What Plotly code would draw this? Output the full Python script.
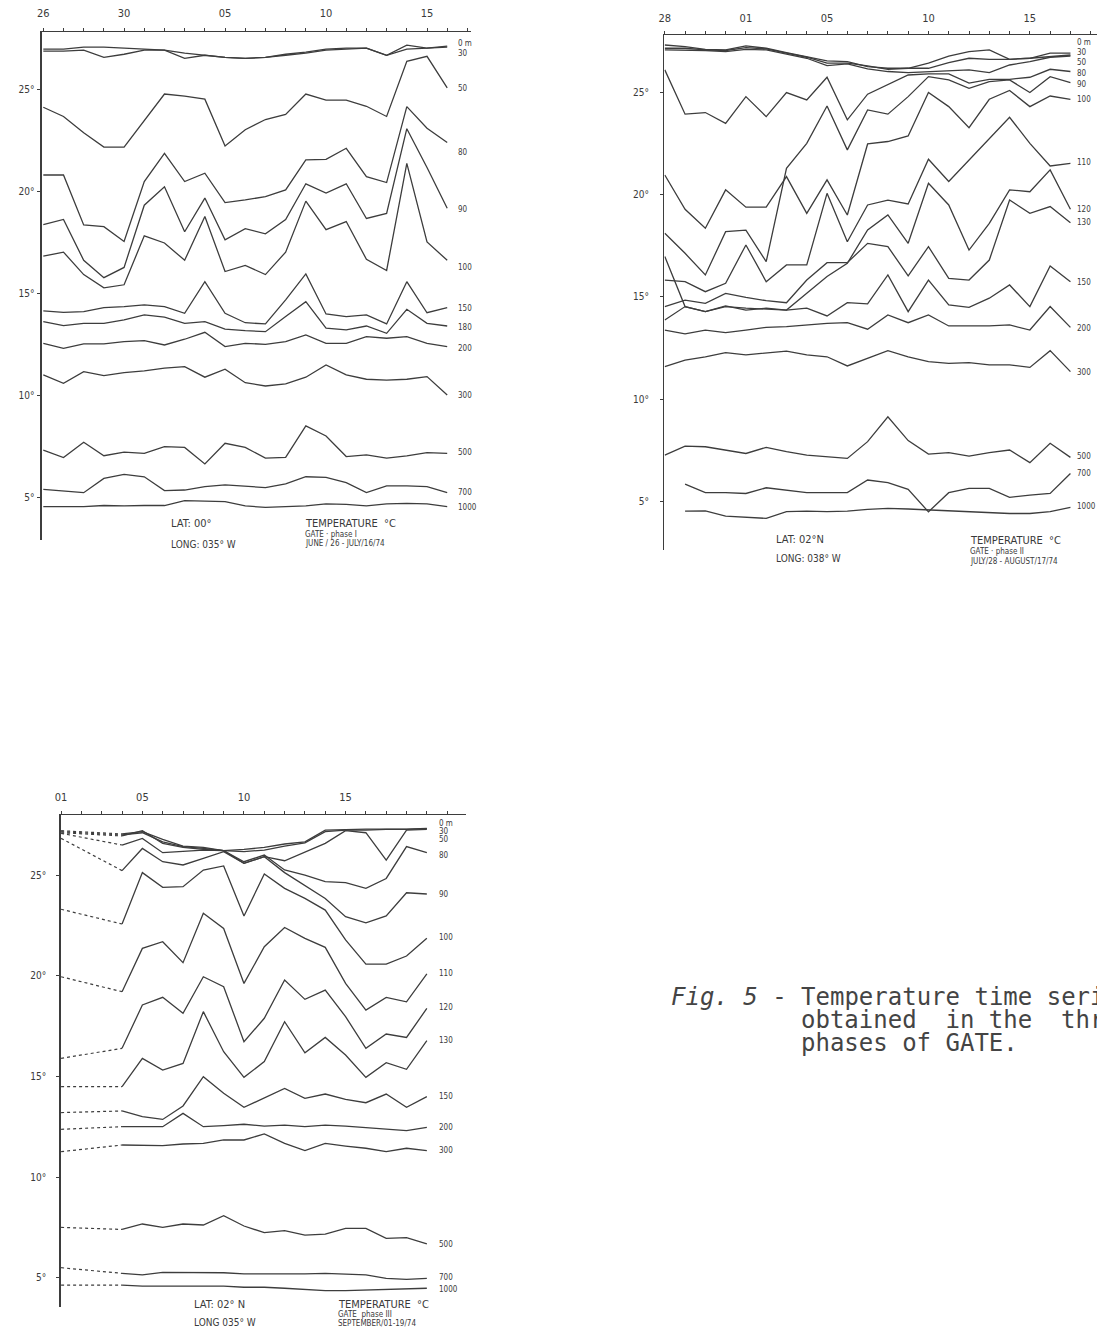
import plotly.graph_objects as go

W, H = 1097, 1333
LINE = "#3d3d3d"
TXT = "#3a3a3a"
FONT = "Liberation Sans Narrow, DejaVu Sans Condensed, DejaVu Sans, sans-serif"

# ---------------- Panel 1: GATE phase I, June 26 - July 16 1974 (daily) ----------------
p1_days = list(range(21))
p1_tickvals = list(range(22))
p1_ticktext = ["26", "", "", "", "30", "", "", "", "", "05", "", "", "", "", "10", "", "", "", "", "15", "", ""]
p1_labels = ["0 m", "30", "50", "80", "90", "100", "150", "180", "200", "300", "500", "700", "1000"]
p1_0m = [27.0, 27.0, 27.1, 27.1, 27.05, 27.0, 26.95, 26.8, 26.7, 26.6, 26.55, 26.6, 26.7, 26.8, 26.95, 27.0, 27.05, 26.7, 27.2, 27.05, 27.1]
p1_30 = [26.9, 26.9, 26.95, 26.6, 26.75, 26.95, 26.95, 26.55, 26.7, 26.6, 26.55, 26.6, 26.75, 26.85, 27.0, 27.05, 27.05, 26.7, 27.0, 27.05, 27.15]
p1_50 = [24.15, 23.7, 22.9, 22.2, 22.2, 23.5, 24.8, 24.7, 24.55, 22.25, 23.05, 23.55, 23.8, 24.8, 24.5, 24.5, 24.2, 23.7, 26.4, 26.65, 25.1]
p1_80 = [20.83, 20.83, 18.38, 18.30, 17.57, 20.51, 21.89, 20.51, 20.92, 19.48, 19.61, 19.77, 20.1, 21.57, 21.60, 22.14, 20.75, 20.46, 24.18, 23.12, 22.42]
p1_90 = [18.4, 18.65, 16.65, 15.8, 16.3, 19.35, 20.25, 18.05, 19.7, 17.65, 18.2, 17.95, 18.65, 20.4, 19.95, 20.4, 18.7, 18.95, 23.1, 21.2, 19.2]
p1_100 = [16.85, 17.05, 15.95, 15.3, 15.45, 17.85, 17.5, 16.65, 18.8, 16.1, 16.4, 15.95, 17.05, 19.55, 18.15, 18.55, 16.7, 16.15, 21.4, 17.55, 16.65]
p1_150 = [14.17, 14.10, 14.13, 14.33, 14.38, 14.46, 14.38, 14.05, 15.60, 14.05, 13.59, 13.53, 14.71, 15.98, 14.02, 13.89, 13.97, 13.53, 15.60, 14.08, 14.33]
p1_180 = [13.64, 13.45, 13.56, 13.56, 13.73, 13.97, 13.86, 13.56, 13.64, 13.28, 13.20, 13.15, 13.89, 14.62, 13.32, 13.24, 13.43, 13.07, 14.25, 13.56, 13.43]
p1_200 = [12.58, 12.33, 12.55, 12.55, 12.66, 12.71, 12.50, 12.78, 13.12, 12.42, 12.58, 12.53, 12.66, 12.99, 12.58, 12.58, 12.91, 12.83, 12.91, 12.58, 12.42]
p1_300 = [11.03, 10.62, 11.19, 11.00, 11.14, 11.23, 11.36, 11.44, 10.92, 11.31, 10.65, 10.49, 10.59, 10.92, 11.52, 11.03, 10.82, 10.78, 10.82, 10.95, 10.05]
p1_500 = [7.35, 6.98, 7.73, 7.07, 7.25, 7.19, 7.52, 7.48, 6.67, 7.68, 7.48, 6.95, 6.99, 8.53, 8.04, 7.03, 7.11, 6.95, 7.06, 7.22, 7.19]
p1_700 = [5.42, 5.34, 5.26, 5.96, 6.16, 6.04, 5.36, 5.39, 5.56, 5.64, 5.56, 5.51, 5.69, 6.04, 6.01, 5.75, 5.26, 5.59, 5.59, 5.56, 5.26]
p1_1000 = [4.58, 4.58, 4.58, 4.63, 4.61, 4.63, 4.63, 4.87, 4.85, 4.82, 4.61, 4.54, 4.58, 4.61, 4.71, 4.69, 4.61, 4.71, 4.74, 4.71, 4.58]
p1_series = [p1_0m, p1_30, p1_50, p1_80, p1_90, p1_100, p1_150, p1_180, p1_200, p1_300, p1_500, p1_700, p1_1000]
p1_label_y = [27.30, 26.81, 25.05, 21.91, 19.12, 16.32, 14.31, 13.38, 12.35, 10.0, 7.21, 5.25, 4.51]

# ---------------- Panel 2: GATE phase II, July 28 - August 17 1974 ----------------
p2_days = list(range(21))
p2_tickvals = list(range(22))
p2_ticktext = ["28", "", "", "", "01", "", "", "", "05", "", "", "", "", "10", "", "", "", "", "15", "", "", ""]
p2_labels = ["0 m", "30", "50", "80", "90", "100", "110", "120", "130", "150", "200", "300", "500", "700", "1000"]
p2_0m = [27.35, 27.27, 27.14, 27.11, 27.31, 27.19, 26.98, 26.78, 26.57, 26.54, 26.29, 26.21, 26.21, 26.46, 26.81, 27.03, 27.11, 26.65, 26.70, 26.95, 26.95]
p2_30 = [27.19, 27.19, 27.11, 27.08, 27.22, 27.16, 26.95, 26.75, 26.46, 26.46, 26.33, 26.16, 26.21, 26.21, 26.49, 26.70, 26.65, 26.65, 26.70, 26.78, 26.86]
p2_50 = [27.11, 27.11, 27.08, 27.03, 27.14, 27.11, 26.90, 26.70, 26.34, 26.42, 26.18, 26.05, 26.00, 26.05, 26.08, 26.13, 26.00, 26.37, 26.54, 26.75, 26.81]
p2_80 = [26.13, 23.96, 24.04, 23.51, 24.82, 23.84, 25.02, 24.66, 25.77, 23.68, 24.94, 25.39, 25.88, 25.93, 25.93, 25.48, 25.67, 25.67, 25.77, 26.16, 26.05]
p2_90 = [18.12, 17.14, 16.08, 18.20, 18.28, 16.73, 21.31, 22.53, 24.36, 22.21, 24.17, 23.96, 24.82, 25.80, 25.64, 25.23, 25.56, 25.64, 25.02, 25.80, 25.51]
p2_100 = [20.98, 19.30, 18.37, 20.25, 19.40, 19.40, 20.90, 19.10, 20.74, 19.02, 22.50, 22.62, 22.89, 25.02, 24.33, 23.30, 24.69, 25.12, 24.33, 24.85, 24.69]
p2_110 = [15.83, 15.75, 15.26, 15.67, 17.55, 15.75, 16.57, 16.57, 20.08, 17.71, 19.51, 19.75, 19.56, 21.75, 20.66, 21.72, 22.73, 23.81, 22.53, 21.42, 21.55]
p2_120 = [16.98, 14.53, 14.28, 14.53, 14.45, 14.40, 14.36, 15.18, 16.00, 16.65, 18.29, 19.02, 17.63, 20.57, 19.51, 17.30, 18.61, 20.25, 20.16, 21.23, 19.30]
p2_130 = [14.53, 14.85, 14.69, 15.18, 14.98, 14.82, 14.72, 15.83, 16.68, 16.68, 17.63, 17.47, 16.03, 17.47, 15.91, 15.83, 16.81, 19.75, 19.10, 19.43, 18.64]
p2_150 = [13.87, 14.53, 14.28, 14.56, 14.36, 14.45, 14.36, 14.45, 14.07, 14.72, 14.66, 16.08, 14.28, 15.83, 14.61, 14.49, 14.94, 15.59, 14.53, 16.52, 15.75]
p2_200 = [13.38, 13.19, 13.38, 13.25, 13.38, 13.51, 13.55, 13.63, 13.71, 13.74, 13.42, 14.12, 13.74, 14.12, 13.58, 13.58, 13.58, 13.63, 13.38, 14.53, 13.51]
p2_300 = [11.59, 11.91, 12.07, 12.27, 12.16, 12.27, 12.35, 12.16, 12.07, 11.62, 12.00, 12.37, 12.07, 11.83, 11.75, 11.78, 11.67, 11.67, 11.55, 12.37, 11.34]
p2_500 = [7.25, 7.69, 7.66, 7.50, 7.33, 7.63, 7.42, 7.25, 7.17, 7.09, 7.91, 9.13, 7.96, 7.30, 7.37, 7.20, 7.37, 7.50, 6.88, 7.83, 7.14]
p2_700 = [None, 5.83, 5.41, 5.41, 5.37, 5.65, 5.54, 5.41, 5.41, 5.41, 6.03, 5.90, 5.57, 4.47, 5.41, 5.62, 5.62, 5.18, 5.29, 5.37, 6.35]
p2_1000 = [None, 4.51, 4.52, 4.26, 4.20, 4.15, 4.48, 4.51, 4.48, 4.51, 4.59, 4.64, 4.61, 4.56, 4.51, 4.48, 4.43, 4.39, 4.39, 4.48, 4.69]
p2_series = [p2_0m, p2_30, p2_50, p2_80, p2_90, p2_100, p2_110, p2_120, p2_130, p2_150, p2_200, p2_300, p2_500, p2_700, p2_1000]
p2_label_y = [27.45, 26.96, 26.47, 25.93, 25.39, 24.66, 21.57, 19.31, 18.63, 15.69, 13.48, 11.32, 7.16, 6.37, 4.71]

# ---------------- Panel 3: GATE phase III, September 01 - 19 1974 ----------------
p3_days = list(range(3, 19))
p3_tickvals = list(range(20))
p3_ticktext = ["01", "", "", "", "05", "", "", "", "", "10", "", "", "", "", "15", "", "", "", "", ""]
p3_labels = ["0 m", "30", "50", "80", "90", "100", "110", "120", "130", "150", "200", "300", "500", "700", "1000"]
p3_start = [27.20, 27.15, 27.10, 27.07, 26.82, 23.30, 19.95, 15.90, 14.50, 13.21, 12.38, 11.27, 7.51, 5.51, 4.65]
p3_0m = [27.04, 27.15, 26.77, 26.44, 26.37, 26.21, 26.27, 26.37, 26.54, 26.65, 27.23, 27.27, 27.28, 27.28, 27.28, 27.32]
p3_30 = [26.99, 27.10, 26.65, 26.41, 26.32, 26.21, 26.16, 26.24, 26.44, 26.60, 27.15, 27.23, 27.23, 27.27, 27.27, 27.30]
p3_50 = [26.94, 27.20, 26.57, 26.37, 26.27, 26.21, 25.58, 25.91, 25.71, 26.16, 26.57, 27.20, 27.10, 25.74, 27.23, 27.27]
p3_80 = [26.49, 26.82, 26.11, 26.16, 26.24, 26.21, 25.66, 25.99, 25.25, 25.00, 24.67, 24.62, 24.34, 24.83, 26.41, 26.11]
p3_90 = [25.22, 26.32, 25.66, 25.50, 25.83, 26.16, 25.58, 25.91, 25.12, 24.50, 23.84, 22.93, 22.63, 22.97, 24.12, 24.06]
p3_100 = [22.57, 25.12, 24.39, 24.42, 25.25, 25.45, 22.97, 25.05, 24.34, 23.84, 23.26, 21.78, 20.58, 20.58, 20.98, 21.86]
p3_110 = [19.21, 21.36, 21.69, 20.65, 23.10, 22.35, 19.62, 21.44, 22.40, 21.86, 21.41, 19.62, 18.30, 18.93, 18.71, 20.09]
p3_120 = [16.40, 18.55, 18.93, 18.14, 19.95, 19.46, 16.73, 17.89, 19.79, 18.83, 19.29, 17.97, 16.40, 17.11, 16.94, 18.38]
p3_130 = [14.50, 15.90, 15.32, 15.65, 18.22, 16.23, 14.96, 15.74, 17.72, 16.18, 16.94, 16.07, 14.96, 15.69, 15.36, 16.78]
p3_150 = [13.29, 13.01, 12.87, 13.54, 14.99, 14.17, 13.47, 13.92, 14.41, 13.92, 14.13, 13.87, 13.70, 14.13, 13.47, 14.00]
p3_200 = [12.51, 12.51, 12.51, 13.17, 12.51, 12.56, 12.63, 12.54, 12.59, 12.51, 12.59, 12.54, 12.46, 12.40, 12.31, 12.48]
p3_300 = [11.60, 11.60, 11.57, 11.65, 11.68, 11.85, 11.85, 12.15, 11.68, 11.32, 11.68, 11.55, 11.44, 11.27, 11.44, 11.32]
p3_500 = [7.41, 7.68, 7.51, 7.68, 7.63, 8.09, 7.58, 7.25, 7.35, 7.13, 7.18, 7.46, 7.46, 6.97, 7.00, 6.69]
p3_700 = [5.23, 5.15, 5.28, 5.28, 5.26, 5.26, 5.20, 5.20, 5.18, 5.20, 5.23, 5.18, 5.15, 4.98, 4.93, 4.98]
p3_1000 = [4.65, 4.60, 4.60, 4.60, 4.60, 4.60, 4.54, 4.54, 4.49, 4.44, 4.37, 4.37, 4.40, 4.44, 4.45, 4.49]
p3_series = [p3_0m, p3_30, p3_50, p3_80, p3_90, p3_100, p3_110, p3_120, p3_130, p3_150, p3_200, p3_300, p3_500, p3_700, p3_1000]
p3_label_y = [27.58, 27.18, 26.74, 25.99, 24.01, 21.92, 20.09, 18.45, 16.81, 14.03, 12.49, 11.35, 6.64, 5.0, 4.45]

y_tickvals = [5, 10, 15, 20, 25]
y_ticktext = ["5°", "10°", "15°", "20°", "25°"]

fig = go.Figure()

def add_lines(series, days, xa, ya):
    for s in series:
        fig.add_trace(go.Scatter(x=days, y=s, mode="lines", xaxis=xa, yaxis=ya,
                                 line=dict(color=LINE, width=1.3), showlegend=False,
                                 hoverinfo="skip", connectgaps=False))

add_lines(p1_series, p1_days, "x", "y")
add_lines(p2_series, p2_days, "x2", "y2")
add_lines(p3_series, p3_days, "x3", "y3")
# extrapolated (dashed) start of phase III series
for start, s in zip(p3_start, p3_series):
    fig.add_trace(go.Scatter(x=[0, p3_days[0]], y=[start, s[0]], mode="lines", xaxis="x3", yaxis="y3",
                             line=dict(color=LINE, width=1.2, dash="3px,3px"), showlegend=False,
                             hoverinfo="skip"))

def px2x(px):
    return px / W

def py2y(py):
    return 1 - py / H

def xax(x0, x1, rng, tv, tt, anchor, standoff):
    return dict(domain=[px2x(x0), px2x(x1)], range=rng, side="top", anchor=anchor,
                showline=True, linecolor=LINE, linewidth=1.4, ticks="outside", ticklen=3,
                tickwidth=1, tickcolor=LINE, tickvals=tv, ticktext=tt, showgrid=False,
                zeroline=False, ticklabelstandoff=standoff, fixedrange=True,
                tickfont=dict(family=FONT, size=11, color=TXT))

def yax(y_top, y_bot, rng, anchor, standoff):
    return dict(domain=[py2y(y_bot), py2y(y_top)], range=rng, anchor=anchor,
                showline=True, linecolor=LINE, linewidth=1.4, ticks="outside", ticklen=3,
                tickwidth=1, tickcolor=LINE, tickvals=y_tickvals, ticktext=y_ticktext,
                showgrid=False, zeroline=False, ticklabelstandoff=standoff, fixedrange=True,
                tickfont=dict(family=FONT, size=10, color=TXT))

layout = dict(
    width=W, height=H, autosize=False,
    margin=dict(l=0, r=0, t=0, b=0),
    paper_bgcolor="white", plot_bgcolor="white",
    xaxis=xax(36, 468, [-0.074, 21.2], p1_tickvals, p1_ticktext, "y", 6),
    yaxis=yax(32, 540, [2.94, 27.84], "x", 1),
    xaxis2=xax(662, 1097, [-0.02, 21.31], p2_tickvals, p2_ticktext, "y2", 4),
    yaxis2=yax(35, 550, [2.60, 27.84], "x2", 9),
    xaxis3=xax(55, 463, [-0.02, 19.95], p3_tickvals, p3_ticktext, "y3", 5),
    yaxis3=yax(815, 1307, [3.56, 27.98], "x3", 8),
)

ann = []
def depth_labels(labels, ys, x, xref, yref):
    for lab, yv in zip(labels, ys):
        ann.append(dict(text=lab, x=x, y=yv, xref=xref, yref=yref, showarrow=False,
                        xanchor="left", yanchor="middle",
                        font=dict(family=FONT, size=8, color=TXT)))

depth_labels(p1_labels, p1_label_y, 20.42, "x", "y")
depth_labels(p2_labels, p2_label_y, 20.23, "x2", "y2")
depth_labels(p3_labels, p3_label_y, 18.48, "x3", "y3")

def txt(text, px, py, size, xanchor="left", family=FONT, color=TXT):
    ann.append(dict(text=text, x=px2x(px), y=py2y(py), xref="paper", yref="paper",
                    showarrow=False, xanchor=xanchor, yanchor="middle",
                    font=dict(family=family, size=size, color=color)))

# panel 1 captions
txt("LAT: 00°", 164, 523, 11)
txt("LONG: 035° W", 164, 545, 10)
txt("TEMPERATURE  °C", 299, 523, 11)
txt("GATE · phase I", 299, 534, 8)
txt("JUNE / 26 - JULY/16/74", 299, 544, 8)
# panel 2 captions
txt("LAT: 02°N", 772, 539, 11)
txt("LONG: 038° W", 772, 558, 10)
txt("TEMPERATURE  °C", 967, 541, 11)
txt("GATE · phase II", 967, 551, 8)
txt("JULY/28 - AUGUST/17/74", 967, 561, 8)
# panel 3 captions
txt("LAT: 02° N", 187, 1304, 11)
txt("LONG 035° W", 187, 1322, 10)
txt("TEMPERATURE  °C", 332, 1304, 11)
txt("GATE  phase III", 332, 1314, 8)
txt("SEPTEMBER/01-19/74", 332, 1323, 8)

# figure caption (typewritten)
MONO = "DejaVu Sans Mono, Liberation Mono, monospace"
txt("<i>Fig. 5</i> - Temperature time series", 667, 997, 24, family=MONO, color="#444")
txt("obtained  in the  three", 797, 1020, 24, family=MONO, color="#444")
txt("phases of GATE.", 797, 1043, 24, family=MONO, color="#444")

layout["annotations"] = ann
fig.update_layout(**layout)
fig.write_html("out.html", config={"displayModeBar": False, "staticPlot": True},
               post_script="document.body.style.margin='0px';document.body.style.overflow='hidden';")
